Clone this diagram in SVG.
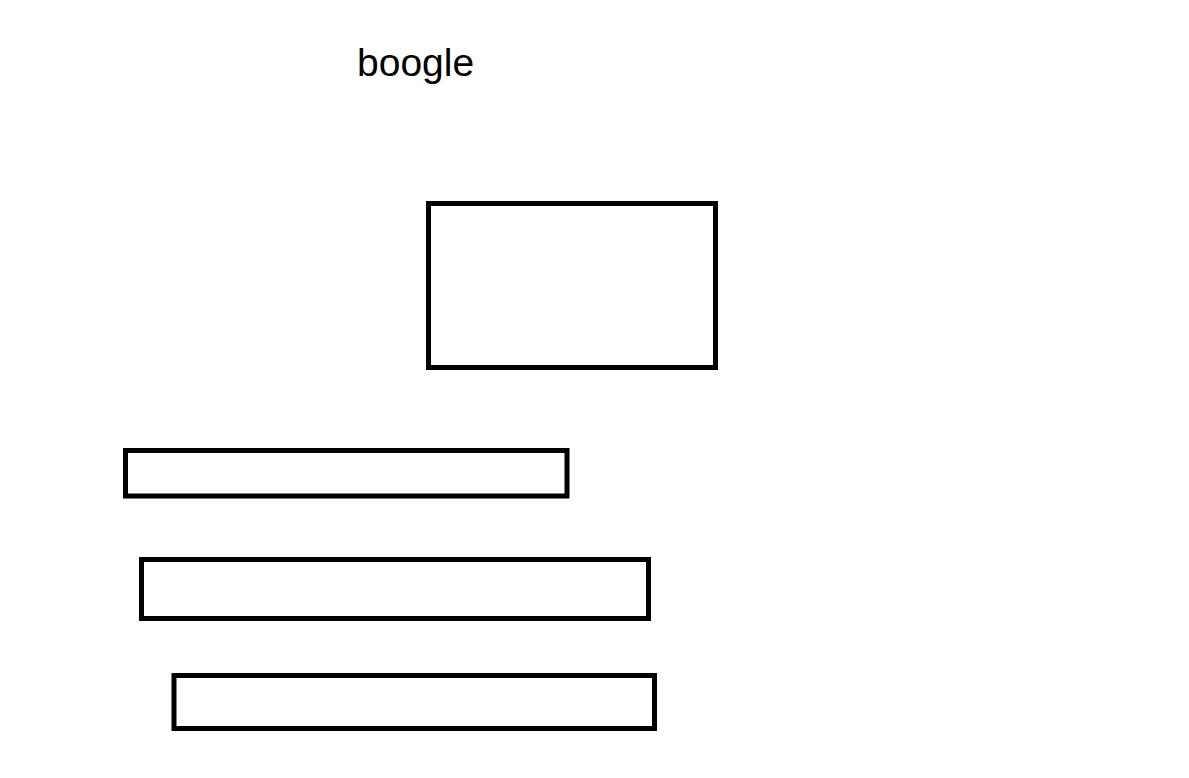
<svg xmlns="http://www.w3.org/2000/svg" width="1189" height="778" viewBox="0 0 1189 778">
<style>
.box{fill:#fff;stroke:#000;stroke-width:5}
.t{font-family:"Liberation Sans",Arial,sans-serif;font-size:39px;fill:#000}
</style>
<rect width="1189" height="778" fill="#fff"/>
<g id="title"><text class="t" x="357" y="76">boogle</text></g>
<g id="box1"><rect class="box" x="428.5" y="203.5" width="287" height="164"/></g>
<g id="bar1"><rect class="box" x="125.5" y="450.5" width="441.5" height="45.5"/></g>
<g id="bar2"><rect class="box" x="141.5" y="559.5" width="507" height="59"/></g>
<g id="bar3"><rect class="box" x="174" y="675.5" width="480.5" height="53"/></g>
<g id="connectors"></g>
</svg>
